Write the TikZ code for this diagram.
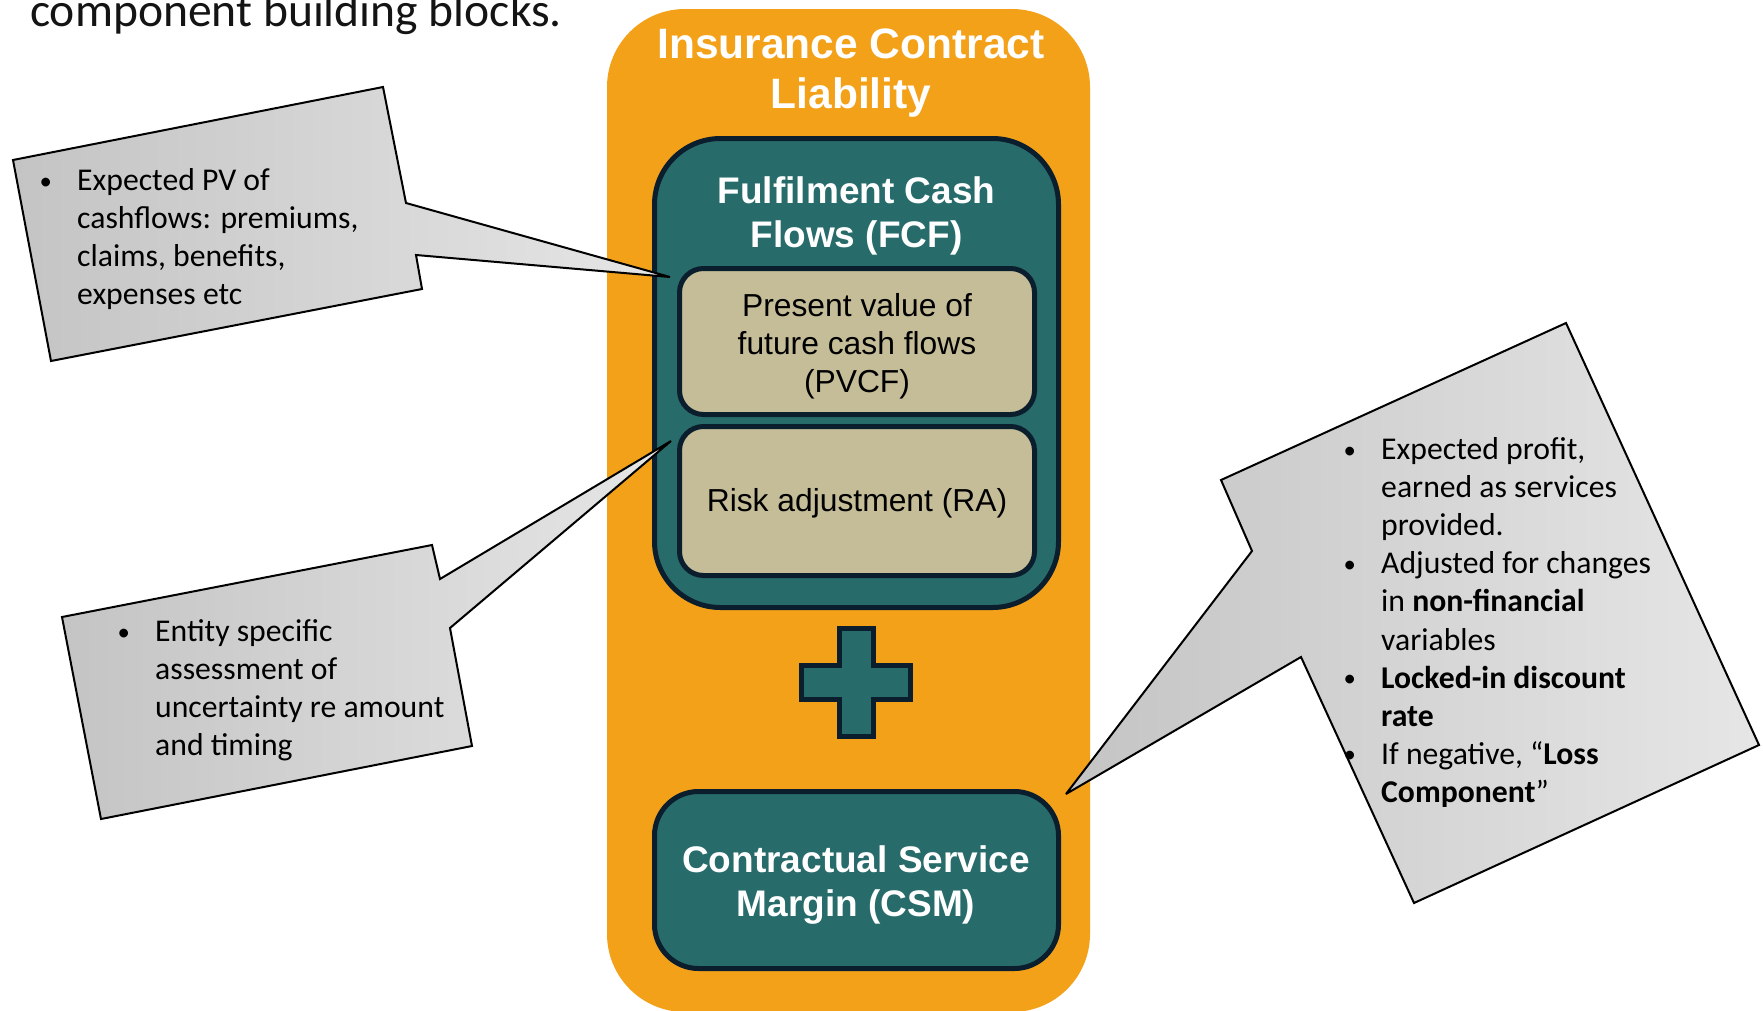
\documentclass[tikz,border=0pt]{standalone}
\usepackage{graphicx}
\usepackage{fontspec}
\setmainfont{Carlito}
\newfontfamily\arialfont{Liberation Sans}
\definecolor{orangeC}{HTML}{F4A11A}
\definecolor{tealC}{HTML}{286B6B}
\definecolor{navyC}{HTML}{0B1E2D}
\definecolor{khakiC}{HTML}{C4BD98}
\definecolor{calloutL}{HTML}{C4C4C4}
\definecolor{calloutR}{HTML}{E6E6E6}
\newcommand{\bul}{\leavevmode\llap{\makebox[63pt][c]{\raisebox{1.5pt}{\scalebox{0.78}{•}}}}}
\tikzset{
  boxline/.style={draw=navyC, line width=5pt},
  tealbox/.style={boxline, fill=tealC},
  khakibox/.style={boxline, fill=khakiC},
  callout/.style={left color=calloutL, right color=calloutR, draw=black, line width=2pt, line join=miter, miter limit=3},
  whitetitle/.style={anchor=base, inner sep=0pt, text=white, font=\arialfont\bfseries},
  boxtext/.style={anchor=base, inner sep=0pt, text=black, font=\arialfont\fontsize{31.8}{38}\selectfont},
  calltext/.style={anchor=base west, inner sep=0pt, text=black, font=\fontsize{31.7}{38.1}\selectfont},
}
\begin{document}
\begin{tikzpicture}[x=1pt, y=-1pt]
\useasboundingbox (0,0) rectangle (1763,1010);
% heading fragment
\node[anchor=base west, inner sep=0pt, text={rgb,255:red,20;green,20;blue,20}, font=\fontsize{47.6}{57}\selectfont] (head) at (30,26.7) {component building blocks.};
% orange container
\fill[orangeC, rounded corners=78pt] (607,9) rectangle (1090,1012);
\node[whitetitle, font=\arialfont\bfseries\fontsize{42.5}{50}\selectfont] (icl) at (851,58)
  {\begin{tabular}[t]{@{}c@{}}Insurance Contract\\Liability\end{tabular}};
% FCF
\draw[tealbox, rounded corners=66pt] (654.5,138.5) rectangle (1058.5,607.5);
\node[whitetitle, font=\arialfont\bfseries\fontsize{37}{44.5}\selectfont] (fcf) at (856.5,203.3)
  {\begin{tabular}[t]{@{}c@{}}Fulfilment Cash\\Flows (FCF)\end{tabular}};
\draw[khakibox, rounded corners=24pt] (679.5,268.5) rectangle (1034.5,414.5);
\node[boxtext] (pvcf) at (857,316.7)
  {\begin{tabular}[t]{@{}c@{}}Present value of\\future cash flows\\(PVCF)\end{tabular}};
\draw[khakibox, rounded corners=24pt] (679.5,426.5) rectangle (1034.5,575.5);
\node[boxtext] (ra) at (857,511.7) {Risk adjustment (RA)};
% plus
\draw[tealbox, line width=4.6pt] (839.3,628.3) -- (873.7,628.3) -- (873.7,665.3) -- (910.7,665.3) -- (910.7,699.7) -- (873.7,699.7) -- (873.7,736.7) -- (839.3,736.7) -- (839.3,699.7) -- (801.3,699.7) -- (801.3,665.3) -- (839.3,665.3) -- cycle;
% CSM
\draw[tealbox, rounded corners=44pt] (654.5,791.5) rectangle (1058.5,968.5);
\node[whitetitle, font=\arialfont\bfseries\fontsize{37}{44}\selectfont] (csm) at (856,872)
  {\begin{tabular}[t]{@{}c@{}}Contractual Service\\Margin (CSM)\end{tabular}};
% callout 1
\coordinate (tip1) at (670,277);
\shadedraw[callout] (13,160) -- (383,87) -- (406,203) -- (tip1) -- (416,255) -- (422,289) -- (51,361) -- cycle;
\node[calltext] (c1) at (77,190.5) {\begin{minipage}[t]{330pt}\raggedright
\bul Expected PV of\\cashflows: premiums,\\claims, benefits,\\expenses etc\end{minipage}};
% callout 2
\coordinate (tip2) at (671,441);
\shadedraw[callout] (62,617) -- (432,545) -- (440,579) -- (tip2) -- (450,628) -- (472,746) -- (101,819) -- cycle;
\node[calltext] (c2) at (155,641.5) {\begin{minipage}[t]{330pt}\raggedright
\bul Entity specific\\assessment of\\uncertainty re amount\\and timing\end{minipage}};
% callout 3
\coordinate (tip3) at (1066,794);
\shadedraw[callout] (1221,480) -- (1566,323) -- (1759,745) -- (1414,903) -- (1301,657) -- (tip3) -- (1252,551) -- cycle;
\node[calltext] (c3) at (1381,459.5) {\begin{minipage}[t]{360pt}\raggedright
\bul Expected profit,\\earned as services\\provided.\\
\bul Adjusted for changes\\in \textbf{non-financial}\\variables\\
\bul \textbf{Locked-in discount}\\\textbf{rate}\\
\bul If negative, “\textbf{Loss}\\\textbf{Component}”\end{minipage}};
\end{tikzpicture}
\end{document}
